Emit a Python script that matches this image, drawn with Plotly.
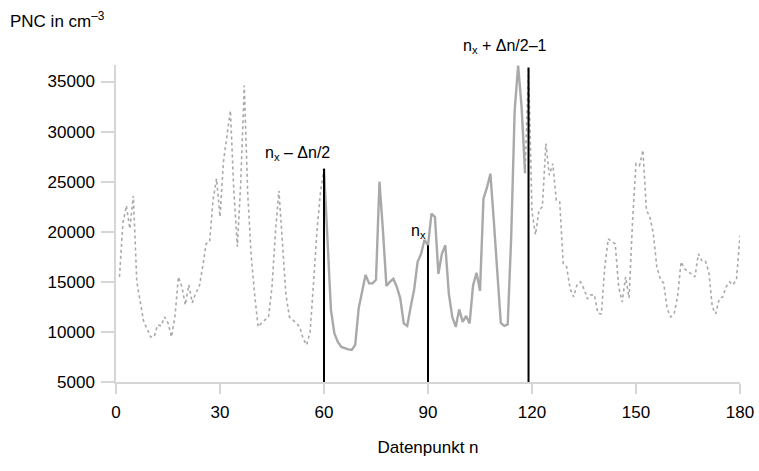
import plotly.graph_objects as go

# Data point index n (1..180) and particle number concentration (cm^-3)
n_values = list(range(1, 181))
pnc = [
    15500, 20900, 22600, 20300, 23600, 15000, 13000, 11000, 10300, 9500,   # 1-10
    9500, 10700, 10600, 11500, 10900, 9500, 11500, 15500, 14500, 12700,    # 11-20
    14700, 12900, 13900, 14500, 16500, 18800, 19000, 23200, 25300, 21500,  # 21-30
    27000, 29500, 32100, 24000, 18500, 25000, 34600, 23800, 17600, 13700,  # 31-40
    10500, 10900, 11200, 11500, 14500, 20000, 24100, 18500, 13800, 11500,  # 41-50
    11200, 10900, 10500, 9300, 8700, 10000, 15000, 20200, 24000, 26300,    # 51-60
    19500, 12200, 9850, 9000, 8500, 8350, 8250, 8200, 8700, 12350,         # 61-70
    14200, 15700, 14850, 14850, 15200, 25000, 20150, 14600, 15000, 15300,  # 71-80
    14500, 13350, 10850, 10600, 12500, 14200, 17000, 17800, 19200, 18650,  # 81-90
    21800, 21500, 15800, 17800, 18650, 13850, 11500, 10500, 12250, 11000,  # 91-100
    11600, 10850, 14650, 15900, 14100, 23300, 24400, 25800, 21000, 16000,  # 101-110
    10900, 10600, 10750, 19500, 32100, 36600, 32450, 25850, 36400, 22000,  # 111-120
    19700, 22150, 22500, 28800, 25650, 26800, 23150, 23000, 16850, 16500,  # 121-130
    14300, 13500, 14700, 15000, 14300, 13300, 13700, 13700, 11850, 11800,  # 131-140
    16500, 19300, 19000, 18800, 14500, 13000, 15500, 13400, 21000, 26800,  # 141-150
    26600, 28150, 22150, 21500, 19800, 16500, 15300, 14850, 12300, 11500,  # 151-160
    11800, 13500, 17000, 16300, 16000, 15800, 15500, 17800, 17100, 17100,  # 161-170
    16000, 12500, 11800, 13300, 13500, 14500, 15000, 14700, 15300, 19600,  # 171-180
]

# Window around n_x
n_x = 90
delta_n = 60
win_start = n_x - delta_n // 2          # 60
win_end = n_x + delta_n // 2 - 1        # 119
marker_ns = [win_start, n_x, win_end]
marker_labels = ["n<sub>x</sub> – Δn/2", "n<sub>x</sub>", "n<sub>x</sub> + Δn/2–1"]

x_ticks = [0, 30, 60, 90, 120, 150, 180]
y_ticks = [5000, 10000, 15000, 20000, 25000, 30000, 35000]
y_min = 5000
y_max = 36650

val = dict(zip(n_values, pnc))

# split series
before_x = [n for n in n_values if n <= win_start]
before_y = [val[n] for n in before_x]
in_x = [n for n in n_values if win_start <= n <= win_end - 1]
in_y = [val[n] for n in in_x]
after_x = [n for n in n_values if n >= win_end - 1]
after_y = [val[n] for n in after_x]

FONT = "Liberation Sans, Arial, Helvetica, sans-serif"
GREY = "#a9a9a9"
AXC = "#d6d6d6"

fig = go.Figure()
fig.add_trace(go.Scatter(x=before_x, y=before_y, mode="lines",
                         line=dict(color=GREY, width=1.6, dash="dot"),
                         showlegend=False, hoverinfo="skip"))
fig.add_trace(go.Scatter(x=after_x, y=after_y, mode="lines",
                         line=dict(color=GREY, width=1.6, dash="dot"),
                         showlegend=False, hoverinfo="skip"))
fig.add_trace(go.Scatter(x=in_x, y=in_y, mode="lines",
                         line=dict(color=GREY, width=2.4),
                         showlegend=False, hoverinfo="skip"))

# vertical marker lines
vx, vy = [], []
for m in marker_ns:
    vx += [m, m, None]
    vy += [y_min, val[m], None]
fig.add_trace(go.Scatter(x=vx, y=vy, mode="lines",
                         line=dict(color="black", width=2),
                         showlegend=False, hoverinfo="skip"))

label_shift = [(-27, 15), (-10, 14), (-24, 21)]
for m, lab, (dx, dy) in zip(marker_ns, marker_labels, label_shift):
    fig.add_annotation(x=m, y=val[m], text=lab, showarrow=False,
                       xanchor="center", yanchor="middle",
                       xshift=dx, yshift=dy,
                       font=dict(size=16, color="black", family=FONT))

fig.add_annotation(xref="paper", yref="paper", x=-108 / 624, y=1.0, yshift=45,
                   text="PNC in cm<sup>–3</sup>", showarrow=False,
                   xanchor="left", yanchor="middle",
                   font=dict(size=17, color="black", family=FONT))

axis_common = dict(showgrid=False, zeroline=False, showline=True,
                   linecolor=AXC, linewidth=1.5, ticks="outside",
                   tickcolor=AXC, tickwidth=1.5,
                   ticklabeloverflow="allow", automargin=False,
                   tickfont=dict(size=17, color="black", family=FONT))

fig.update_layout(
    width=759, height=471,
    margin=dict(l=116, r=19, t=65, b=89, autoexpand=False),
    paper_bgcolor="white", plot_bgcolor="white",
    xaxis=dict(range=[0, 180], tickvals=x_ticks, ticklen=10,
               ticklabelstandoff=4,
               title=dict(text="Datenpunkt n", standoff=20,
                          font=dict(size=17, color="black", family=FONT)),
               **axis_common),
    yaxis=dict(range=[y_min, y_max], tickvals=y_ticks, ticklen=13,
               tickformat="d", ticklabelstandoff=3,
               **axis_common),
)

fig.write_html("out.html",
               config={"displayModeBar": False},
               post_script="document.body.style.margin='0';"
                           "document.body.style.overflow='hidden';")
